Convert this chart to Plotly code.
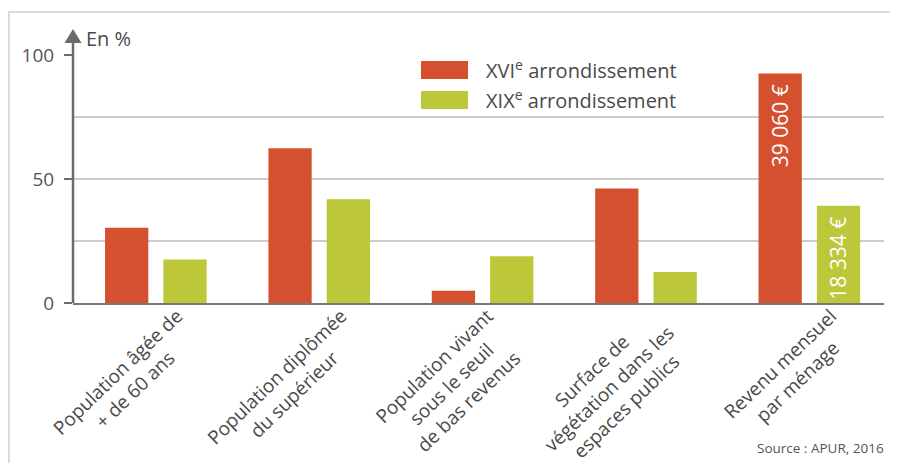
import plotly.graph_objects as go

# ---- data ----
categories = [
    "Population âgée de<br>+ de 60 ans",
    "Population diplômée<br>du supérieur",
    "Population vivant<br>sous le seuil<br>de bas revenus",
    "Surface de<br>végétation dans les<br>espaces publics",
    "Revenu mensuel<br>par ménage",
]
xvi_values = [30.3, 62.4, 4.9, 46.2, 92.5]
xix_values = [17.5, 41.8, 18.9, 12.5, 39.2]
xvi_labels = ["", "", "", "", "39 060 €"]
xix_labels = ["", "", "", "", "18 334 €"]
series_names = ["XVI<sup>e</sup> arrondissement", "XIX<sup>e</sup> arrondissement"]
y_ticks = [0, 50, 100]
y_title = "En %"
source_text = "Source : APUR, 2016"

# ---- style ----
RED = "#D5502F"
GREEN = "#BDC73A"
FONT = "Open Sans"
PAGE_OFF = 8  # default body margin of the html page
W, H = 898 - PAGE_OFF, 463 - PAGE_OFF
# plot area, in reference-picture pixels
RL, RR, RT, RB = 73, 884, 55, 303
L, R, T, B = RL - PAGE_OFF, RR - PAGE_OFF, RT - PAGE_OFF, RB - PAGE_OFF

def px2paper(px, py):
    return (px - RL) / (RR - RL), (RB - py) / (RB - RT)

xs = list(range(len(categories)))
BAR_W = 0.265
OFF_RED = -0.311
OFF_GREEN = 0.046

fig = go.Figure()
fig.add_trace(go.Bar(x=xs, y=xvi_values, width=BAR_W, offset=OFF_RED,
                     marker=dict(color=RED, line=dict(width=0)), showlegend=False,
                     name="XVIe arrondissement"))
fig.add_trace(go.Bar(x=xs, y=xix_values, width=BAR_W, offset=OFF_GREEN,
                     marker=dict(color=GREEN, line=dict(width=0)), showlegend=False,
                     name="XIXe arrondissement"))

annotations = []
shapes = []

# value labels inside bars
for vals, labs, off in [(xvi_values, xvi_labels, OFF_RED), (xix_values, xix_labels, OFF_GREEN)]:
    for i, (v, t) in enumerate(zip(vals, labs)):
        if t:
            annotations.append(dict(x=i + off + BAR_W / 2, y=v, xref="x", yref="y",
                                    text=t, showarrow=False, textangle=-90,
                                    xanchor="center", yanchor="top", yshift=-9,
                                    font=dict(family=FONT, size=21, color="white")))

# category labels (rotated, centred lines)
for i, c in enumerate(categories):
    annotations.append(dict(x=i, y=0, xref="x", yref="y", text=c, showarrow=False,
                            textangle=-44, align="center", xanchor="right", yanchor="top",
                            xshift=53, yshift=3,
                            font=dict(family=FONT, size=19, color="#4a4a4a")))

# y title
annotations.append(dict(x=0, y=1, xref="paper", yref="paper", text=y_title, showarrow=False,
                        xanchor="left", yanchor="middle", xshift=11, yshift=17,
                        font=dict(family=FONT, size=20, color="#4a4a4a")))

# legend (manual, large swatches)
for k, (name, col) in enumerate(zip(series_names, [RED, GREEN])):
    y_top = 61 + k * 30
    x0, y0 = px2paper(421, y_top + 18)
    x1, y1 = px2paper(468, y_top)
    shapes.append(dict(type="rect", xref="paper", yref="paper", x0=x0, x1=x1, y0=y0, y1=y1,
                       fillcolor=col, line=dict(width=0)))
    tx, ty = px2paper(484, y_top + 9)
    annotations.append(dict(x=tx, y=ty, xref="paper", yref="paper", text=name, showarrow=False,
                            xanchor="left", yanchor="middle",
                            font=dict(family=FONT, size=20, color="#4a4a4a")))

# source
sx, sy = px2paper(886, 448)
annotations.append(dict(x=sx, y=sy, xref="paper", yref="paper", text=source_text, showarrow=False,
                        xanchor="right", yanchor="middle",
                        font=dict(family=FONT, size=13.5, color="#555555")))

# y axis line with arrow
_, ybase = px2paper(0, 42)
shapes.append(dict(type="line", xref="paper", yref="paper", x0=0, x1=0, y0=0, y1=ybase,
                   line=dict(color="#6b6b6b", width=2.5), layer="above"))
shapes.append(dict(type="path", xref="paper", yref="paper",
                   xsizemode="pixel", ysizemode="pixel", xanchor=0, yanchor=1,
                   path="M -8.5,12 L 8.5,12 L 0,26 Z",
                   fillcolor="#6b6b6b", line=dict(width=0), layer="above"))

# frame (top and left edges)
fx0, fy1 = px2paper(9, 12)
fx1, fy0 = px2paper(910, 475)
shapes.append(dict(type="rect", xref="paper", yref="paper", x0=fx0, x1=fx1, y0=fy0, y1=fy1,
                   line=dict(color="#cfcfcf", width=1.5), fillcolor="rgba(0,0,0,0)", layer="below"))

fig.update_layout(
    width=W, height=H,
    margin=dict(l=L, r=W - R, t=T, b=H - B, pad=0),
    paper_bgcolor="white", plot_bgcolor="white",
    barmode="overlay",
    font=dict(family=FONT, color="#555555"),
    xaxis=dict(range=[-0.507, 4.457], showticklabels=False, ticks="", showgrid=False,
               zeroline=False, showline=True, linecolor="#777777", linewidth=2),
    yaxis=dict(range=[0, 100], tickvals=y_ticks, ticktext=[str(v) for v in y_ticks],
               ticks="outside", ticklen=8, tickwidth=1.5, tickcolor="#6b6b6b",
               ticklabelstandoff=6,
               tickfont=dict(family=FONT, size=19, color="#555555"),
               showgrid=True, gridcolor="#cccccc", gridwidth=1.5,
               minor=dict(tickvals=[25, 75], showgrid=True, gridcolor="#cccccc", gridwidth=1.5),
               zeroline=False, showline=False, fixedrange=True),
    annotations=annotations,
    shapes=shapes,
)

fig.write_html("out.html")
